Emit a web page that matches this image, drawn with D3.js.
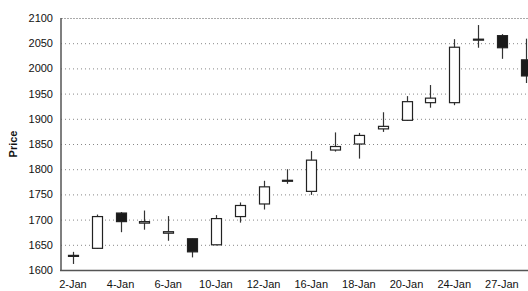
<!DOCTYPE html>
<html><head><meta charset="utf-8">
<script src="https://cdn.jsdelivr.net/npm/d3@7"></script>
<style>html,body{margin:0;padding:0;overflow:hidden;background:#fff;}</style>
</head><body>
<script>
const dates = ["2-Jan","3-Jan","4-Jan","5-Jan","6-Jan","9-Jan","10-Jan","11-Jan","12-Jan","13-Jan","16-Jan","17-Jan","18-Jan","19-Jan","20-Jan","23-Jan","24-Jan","25-Jan","27-Jan","30-Jan"];
const open  = [1627,1643,1713,1693,1673,1662,1650,1706,1731,1776,1756,1838,1850,1880,1897,1932,1932,2056,2065,2017];
const close = [1629,1706,1696,1696,1676,1636,1702,1728,1765,1778,1818,1845,1867,1885,1934,1941,2042,2058,2041,1985];
const high  = [1636,1710,1715,1718,1707,1662,1709,1734,1777,1800,1836,1873,1872,1913,1945,1967,2058,2086,2068,2059];
const low   = [1612,1642,1675,1680,1658,1625,1649,1694,1720,1771,1749,1835,1821,1874,1896,1922,1927,2041,2019,1971];
const yTicks = [1600,1650,1700,1750,1800,1850,1900,1950,2000,2050,2100];

const W = 528, H = 291;
const svg = d3.select("body").append("svg").attr("width", W).attr("height", H)
  .style("font-family", "'Liberation Sans', Arial, sans-serif");

const x = d3.scaleBand().domain(dates).range([61, 537.6]).padding(0);
const y = d3.scaleLinear().domain([1600, 2100]).range([270, 18]);

// gridlines
svg.append("g").selectAll("line").data(yTicks.filter(v => v > 1600)).join("line")
  .attr("x1", 61).attr("x2", W)
  .attr("y1", d => y(d) + 0.5).attr("y2", d => y(d) + 0.5)
  .attr("stroke", d => d === 2100 ? "#aaa" : "#888")
  .attr("stroke-width", 1)
  .attr("stroke-dasharray", d => d === 2100 ? "2,1" : "1,3");

// y axis labels
const ya = svg.append("g").attr("transform", "translate(61,0)")
  .call(d3.axisLeft(y).tickValues(yTicks).tickSize(0).tickPadding(8).tickFormat(d3.format("d")));
ya.select(".domain").remove();
ya.selectAll("text").attr("font-size", 11).attr("fill", "#111")
  .style("font-family", "'Liberation Sans', Arial, sans-serif");

// x axis labels
const xa = svg.append("g").attr("transform", "translate(0,270)")
  .call(d3.axisBottom(x).tickValues(dates.filter((d, i) => i % 2 === 0)).tickSize(0).tickPadding(10));
xa.select(".domain").remove();
xa.selectAll("text").attr("font-size", 11).attr("fill", "#111")
  .style("font-family", "'Liberation Sans', Arial, sans-serif");

// axis lines
svg.append("line").attr("x1", 61).attr("x2", 61).attr("y1", 18).attr("y2", 271)
  .attr("stroke", "#555").attr("stroke-width", 1.5);
svg.append("line").attr("x1", 60).attr("x2", W).attr("y1", 270.5).attr("y2", 270.5)
  .attr("stroke", "#555").attr("stroke-width", 1.5);

// y title
svg.append("text").attr("transform", "translate(17,144) rotate(-90)")
  .attr("text-anchor", "middle").attr("font-size", 11).attr("font-weight", "bold")
  .attr("fill", "#111").text("Price");

// candles
const bw = 10;
const g = svg.append("g");
dates.forEach((d, i) => {
  const cx = Math.round(x(d) + x.bandwidth() / 2) + 0.5;
  g.append("line").attr("x1", cx).attr("x2", cx)
    .attr("y1", y(high[i])).attr("y2", y(low[i]))
    .attr("stroke", "#333").attr("stroke-width", 1.2);
  const top = y(Math.max(open[i], close[i]));
  const bot = y(Math.min(open[i], close[i]));
  g.append("rect").attr("x", cx - bw / 2).attr("y", top)
    .attr("width", bw).attr("height", Math.max(1, bot - top))
    .attr("fill", close[i] >= open[i] ? "#fff" : "#1a1a1a")
    .attr("stroke", "#222").attr("stroke-width", 1.2);
});
</script>
</body></html>
